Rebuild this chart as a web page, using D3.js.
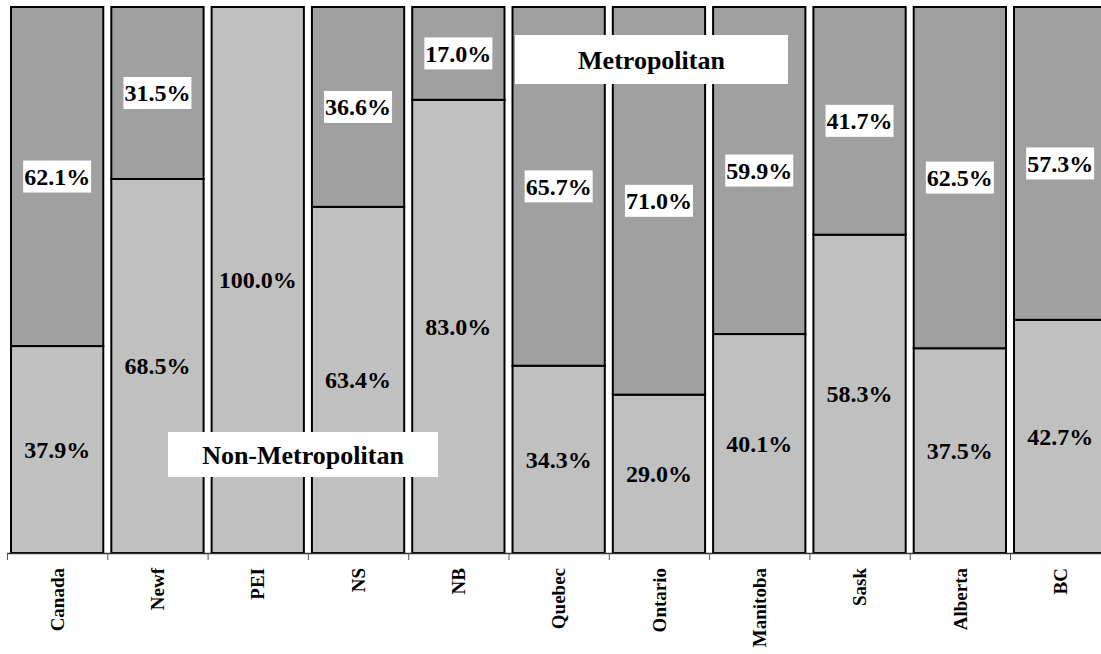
<!DOCTYPE html>
<html><head><meta charset="utf-8">
<script src="https://cdn.jsdelivr.net/npm/d3@7"></script>
<style>body{margin:0;background:#fff}svg{display:block}text{font-family:"Liberation Serif","Times New Roman",serif;font-weight:bold}</style>
</head><body><svg id="c" width="1101" height="654"></svg>
<script>
const categories = ["Canada","Newf","PEI","NS","NB","Quebec","Ontario","Manitoba","Sask","Alberta","BC"];
const nonMetro = [37.9,68.5,100.0,63.4,83.0,34.3,29.0,40.1,58.3,37.5,42.7];
const metro =    [62.1,31.5,0,36.6,17.0,65.7,71.0,59.9,41.7,62.5,57.3];
const seriesNames = ["Non-Metropolitan","Metropolitan"];
const colors = ["#c0c0c0","#a0a0a0"];

const svg = d3.select("#c");
const x = d3.scaleBand().domain(categories).range([7, 7 + 100.3*11]).paddingInner(0.08).paddingOuter(0.04);
const y = d3.scaleLinear().domain([0,100]).range([553,7]);

const rows = categories.map((c,i)=>({cat:c, nm:nonMetro[i], m:metro[i]}));
const stack = d3.stack().keys(["nm","m"])(rows);

stack.forEach((layer,li)=>{
  svg.append("g").selectAll("rect").data(layer).join("rect")
    .attr("x", d=>x(d.data.cat))
    .attr("width", x.bandwidth())
    .attr("y", d=>y(d[1]))
    .attr("height", d=>y(d[0])-y(d[1]))
    .attr("fill", colors[li])
    .attr("stroke","#000").attr("stroke-width",2)
    .style("display", d=>d[1]-d[0] > 0 ? null : "none");
});

// axis
const axisG = svg.append("g");
axisG.append("line").attr("x1",7).attr("x2",1101).attr("y1",553.5).attr("y2",553.5).attr("stroke","#333").attr("stroke-width",1.5);
const step = x.step();
axisG.selectAll("line.tick").data(d3.range(categories.length+1)).join("line")
  .attr("class","tick")
  .attr("x1", i=>7.5 + i*step).attr("x2", i=>7.5 + i*step)
  .attr("y1",553).attr("y2",560).attr("stroke","#555").attr("stroke-width",1);
axisG.selectAll("text").data(categories).join("text")
  .attr("transform", d=>`translate(${x(d)+x.bandwidth()/2},568) rotate(-90)`)
  .attr("text-anchor","end").attr("dy","0.35em")
  .attr("font-size",19).text(d=>d);

// labels
const fmt = v=>v.toFixed(1)+"%";
// non-metro labels (no box)
svg.append("g").selectAll("text").data(rows).join("text")
  .attr("x", d=>x(d.cat)+x.bandwidth()/2)
  .attr("y", d=>(y(0)+y(d.nm))/2)
  .attr("text-anchor","middle").attr("dy","0.35em")
  .attr("font-size",24).text(d=>fmt(d.nm));
// metro labels with white boxes
const mg = svg.append("g").selectAll("g").data(rows.filter(d=>d.m>0)).join("g")
  .attr("transform", d=>`translate(${x(d.cat)+x.bandwidth()/2},${(y(d.nm)+y(100))/2})`);
mg.append("rect").attr("fill","#fff");
mg.append("text").attr("text-anchor","middle").attr("dy","0.35em").attr("font-size",24).text(d=>fmt(d.m));
mg.each(function(){
  const g = d3.select(this);
  const b = g.select("text").node().getBBox();
  g.select("rect").attr("x",b.x-1).attr("width",b.width+2).attr("y",-16).attr("height",32);
});

// series legend-like labels
const legend = [
  {name:seriesNames[0], x0:168, x1:438, y0:432, y1:477},
  {name:seriesNames[1], x0:515, x1:788, y0:35, y1:84}
];
const lg = svg.append("g").selectAll("g").data(legend).join("g");
lg.append("rect").attr("x",d=>d.x0).attr("y",d=>d.y0).attr("width",d=>d.x1-d.x0).attr("height",d=>d.y1-d.y0).attr("fill","#fff");
lg.append("text").attr("x",d=>(d.x0+d.x1)/2).attr("y",d=>(d.y0+d.y1)/2).attr("dy","0.35em")
  .attr("text-anchor","middle").attr("font-size",26).text(d=>d.name);
</script></body></html>
